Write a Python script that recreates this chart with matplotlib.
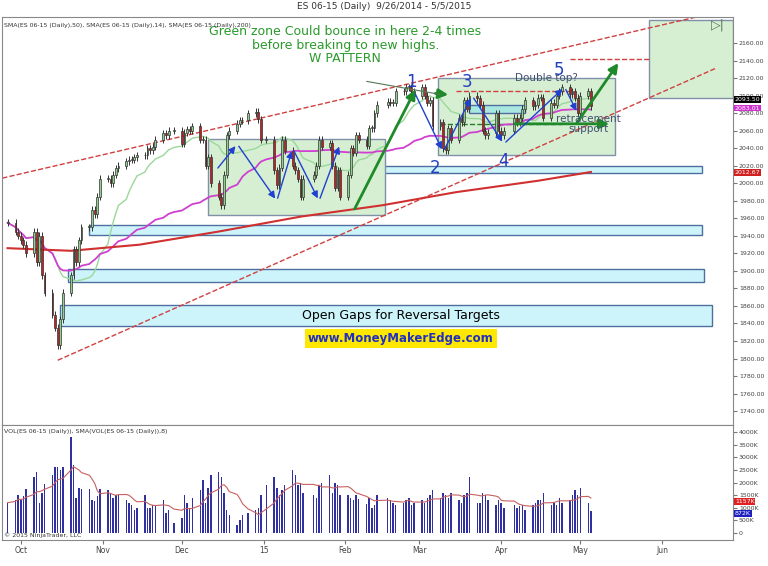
import matplotlib
matplotlib.use("Agg")
import matplotlib.pyplot as plt
import matplotlib.dates as mdates
from matplotlib.patches import Rectangle
import pandas as pd
import numpy as np

holidays = ["2014-11-27", "2014-12-25", "2015-01-01", "2015-01-19", "2015-02-16", "2015-04-03"]
closes = [1955, 1945, 1940,
          1935, 1930, 1920, 1945, 1910, 1940, 1895, 1875, 1850, 1835, 1815, 1845, 1875, 1895, 1925, 1910, 1935, 1950, 1950, 1970, 1965, 1985, 2005,
          2005, 2000, 2010, 2017, 2020, 2025, 2027, 2027, 2030, 2032, 2032, 2040, 2038, 2042, 2050, 2057, 2055, 2060, 2060,
          2045, 2058, 2062, 2060, 2065, 2050, 2050, 2020, 2030, 2000, 1985, 1975, 2010, 2055, 2060, 2068, 2072, 2072, 2080, 2082, 2073, 2050,
          2050, 2015, 1998, 2018, 2050, 2037, 2020, 2015, 2005, 1985, 2005, 2010, 2020, 2050, 2042, 2046, 2020, 1995, 2015, 1985,
          2010, 2040, 2035, 2055, 2050, 2043, 2063, 2063, 2080, 2090, 2093, 2092, 2092, 2105, 2105, 2110, 2110, 2105, 2100,
          2110, 2100, 2092, 2095, 2065, 2070, 2040, 2038, 2063, 2050, 2075, 2070, 2095, 2085, 2100, 2097, 2090, 2060, 2055, 2058, 2080, 2060,
          2055, 2060, 2075, 2070, 2075, 2085, 2095, 2088, 2090, 2098, 2098, 2075, 2092, 2090, 2100, 2105, 2110, 2102, 2105, 2098, 2080,
          2100, 2105, 2088]
volumes = [1200, 1300, 1500,
           1300, 1450, 1750, 2200, 2400, 1200, 1600, 1950, 2300, 2600, 2600, 2500, 2600, 3800, 2700, 1400, 1800, 1750, 1750, 1300, 1250, 1450, 1750,
           1700, 1600, 1400, 1500, 1500, 1300, 1200, 1100, 900, 1000, 1500, 1000, 1000, 1100, 1100, 1300, 800, 900, 400,
           600, 1500, 1200, 1000, 1400, 1700, 2100, 1200, 1800, 2300, 2400, 2200, 1600, 900, 700, 300, 500, 700, 800, 900, 1000, 1500,
           1900, 2200, 1800, 1500, 1700, 1900, 2500, 2300, 1900, 2000, 1600, 1500, 1400, 1900, 2000, 2300, 1600, 2000, 1900, 1500,
           1500, 1400, 1300, 1500, 1350, 1150, 1400, 1000, 1100, 1500, 1400, 1300, 1200, 1100, 1200, 1300, 1400, 1100, 1200,
           1300, 1200, 1400, 1500, 1700, 1400, 1600, 1500, 1400, 1600, 1300, 1200, 1500, 1600, 2200, 1200, 1200, 1600, 1500, 1300, 1100, 1300,
           1200, 1000, 1100, 1000, 1050, 1100, 900, 1100, 1200, 1300, 1300, 1600, 1100, 1200, 1100, 1400, 1200, 1300, 1500, 1700, 1500,
           1800, 1200, 872]
sma200_dates = ["2014-09-26", "2014-10-20", "2014-11-15", "2014-12-15", "2015-01-15", "2015-02-15", "2015-03-15", "2015-04-15", "2015-05-05"]
sma200_vals = [1926, 1923, 1930, 1945, 1962, 1975, 1990, 2003, 2013]
month_ticks = ["2014-10-01", "2014-11-01", "2014-12-01", "2015-01-01", "2015-02-01", "2015-03-01", "2015-04-01", "2015-05-01", "2015-06-01"]
month_labels = ["Oct", "Nov", "Dec", "15", "Feb", "Mar", "Apr", "May", "Jun"]

days = pd.bdate_range("2014-09-26", "2015-05-05")
days = days[~days.isin(pd.to_datetime(holidays))]
n = min(len(days), len(closes), len(volumes))
days = days[:n]
c = np.array(closes[:n], float)
o = np.r_[c[0], c[:-1]]
hi = np.maximum(o, c) + 4
lo = np.minimum(o, c) - 4
x = mdates.date2num(days)
s = pd.Series(c)
sma50 = s.rolling(50, min_periods=1).mean().values
sma14 = s.rolling(14, min_periods=1).mean().values
vol = np.array(volumes[:n], float)
vsma = pd.Series(vol).rolling(8, min_periods=1).mean().values

def d(s_):
    return mdates.date2num(pd.Timestamp(s_))

fig = plt.figure(figsize=(7.68, 5.66), dpi=100)
ax = fig.add_axes([0.003, 0.249, 0.952, 0.721])
axv = fig.add_axes([0.003, 0.046, 0.952, 0.203], sharex=ax)
xmin, xmax = d("2014-09-24"), d("2015-06-28")
ax.set_xlim(xmin, xmax)
ax.set_ylim(1724, 2190)

cyan_fc, cyan_ec = "#cdf4fb", "#4f6fa0"
for x0, x1, y0, y1 in [("2015-02-02", "2015-06-16", 2012, 2020), ("2014-10-27", "2015-06-16", 1941, 1952),
                       ("2014-10-19", "2015-06-17", 1887, 1902), ("2014-10-16", "2015-06-20", 1837, 1861)]:
    ax.add_patch(Rectangle((d(x0), y0), d(x1) - d(x0), y1 - y0, fc=cyan_fc, ec=cyan_ec, lw=1, zorder=1))
green_fc = "#d6efd2"
for x0, x1, y0, y1 in [("2014-12-11", "2015-02-16", 1964, 2051), ("2015-03-08", "2015-05-14", 2032, 2120),
                       ("2015-05-27", "2015-06-28", 2098, 2186)]:
    ax.add_patch(Rectangle((d(x0), y0), d(x1) - d(x0), y1 - y0, fc=green_fc, ec="#7f90a8", lw=1, zorder=1))
ax.add_patch(Rectangle((d("2015-03-20"), 2080), d("2015-04-10") - d("2015-03-20"), 9, fc="#a8e6e0", ec=cyan_ec, lw=1, zorder=1))

ax.plot([d("2014-09-24"), d("2015-06-14")], [2006, 2190], ls="--", color="#d04040", lw=1, zorder=2)
ax.plot([d("2014-10-15"), d("2015-06-21")], [1798, 2131], ls="--", color="#d04040", lw=1, zorder=2)
ax.plot([d("2015-04-27"), d("2015-05-27")], [2142, 2142], ls="--", color="#d04040", lw=1, zorder=2)
ax.plot([d("2015-03-15"), d("2015-04-27")], [2106, 2106], ls="--", color="#d04040", lw=1, zorder=2)
ax.plot([d("2015-03-09"), d("2015-04-24")], [2068, 2068], ls="--", color="#2a7a2a", lw=1, zorder=2)

ax.plot(x, sma14, color="#9ad89a", lw=1, zorder=3)
ax.plot(x, sma50, color="#d040d0", lw=1.3, zorder=3)
ax.plot(mdates.date2num(pd.to_datetime(sma200_dates)), sma200_vals, color="#d03030", lw=1.5, zorder=3)

for xi, oi, ci, h, l in zip(x, o, c, hi, lo):
    up = ci >= oi
    ax.vlines(xi, l, h, color="#333333", lw=0.7, zorder=4)
    ax.add_patch(Rectangle((xi - 0.35, min(oi, ci)), 0.7, max(abs(ci - oi), 0.8),
                           fc="#8fd08f" if up else "#c02020", ec="#333333", lw=0.5, zorder=5))

ag = dict(arrowstyle="-|>", color="#1f8a2a", lw=2, mutation_scale=14)
ax.annotate("", xy=(d("2015-02-28"), 2110), xytext=(d("2015-02-04"), 1968), arrowprops=ag, zorder=6)
ax.annotate("", xy=(d("2015-05-13"), 2068), xytext=(d("2015-04-05"), 2068), arrowprops=ag, zorder=6)
ax.annotate("", xy=(d("2015-05-16"), 2140), xytext=(d("2015-04-29"), 2066), arrowprops=ag, zorder=6)
ax.annotate("", xy=(d("2015-03-13"), 2101), xytext=(d("2015-03-06"), 2103), arrowprops=ag, zorder=6)
ax.annotate("", xy=(d("2015-03-10"), 2101), xytext=(d("2015-02-08"), 2117),
            arrowprops=dict(arrowstyle="-", color="#557755", lw=0.8), zorder=6)

ab = dict(arrowstyle="-|>", color="#2040d0", lw=1, mutation_scale=10)
zig = [("2015-02-27", 2105), ("2015-03-10", 2036), ("2015-03-21", 2100), ("2015-04-02", 2045),
       ("2015-04-25", 2110), ("2015-04-30", 2080)]
for (a0, b0), (a1, b1) in zip(zig[:-1], zig[1:]):
    ax.annotate("", xy=(d(a1), b1), xytext=(d(a0), b0), arrowprops=ab, zorder=6)
zig2 = [("2014-12-14", 2015), ("2014-12-22", 2045), ("2015-01-06", 1980), ("2015-01-12", 2040),
        ("2015-01-22", 1980), ("2015-01-30", 2045)]
for (a0, b0), (a1, b1) in zip(zig2[:-1], zig2[1:]):
    ax.annotate("", xy=(d(a1), b1), xytext=(d(a0), b0), arrowprops=ab, zorder=6)
for lab, dd, yy in [("1", "2015-02-26", 2116), ("2", "2015-03-07", 2017), ("3", "2015-03-19", 2116),
                    ("4", "2015-04-02", 2026), ("5", "2015-04-23", 2130)]:
    ax.text(d(dd), yy, lab, color="#2040c0", fontsize=12, ha="center", va="center", zorder=7)

ax.text(d("2015-02-01"), 2158, "Green zone Could bounce in here 2-4 times\nbefore breaking to new highs.\nW PATTERN",
        color="#2a9a2a", fontsize=9, ha="center", va="center", linespacing=1.05)
ax.text(d("2015-04-18"), 2120, "Double top?", color="#405070", fontsize=7.5, ha="center", va="center", zorder=7)
ax.text(d("2015-05-04"), 2068, "retracement\nsupport", color="#405070", fontsize=7.5, ha="center", va="center",
        linespacing=1.0, zorder=7)
ax.text(d("2015-02-22"), 1849, "Open Gaps for Reversal Targets", fontsize=9, ha="center", va="center", zorder=7)
ax.text(d("2015-02-22"), 1823, "www.MoneyMakerEdge.com", fontsize=8.5, color="#2030c0", fontweight="bold",
        ha="center", va="center", zorder=7,
        bbox=dict(boxstyle="square,pad=0.25", fc="#ffe800", ec="none"))
ax.text(d("2015-06-22"), 2181, "▷|", fontsize=9, color="#557755", ha="center", va="center", zorder=7)
ax.text(0.002, 0.985, "SMA(ES 06-15 (Daily),50), SMA(ES 06-15 (Daily),14), SMA(ES 06-15 (Daily),200)",
        transform=ax.transAxes, fontsize=4.5, va="top", color="#333333")

axv.bar(x, vol, width=0.55, color="#3030a0", zorder=2)
axv.plot(x, vsma, color="#c86060", lw=0.8, zorder=3)
axv.set_ylim(-277, 4277)
axv.text(0.002, 0.97, "VOL(ES 06-15 (Daily)), SMA(VOL(ES 06-15 (Daily)),8)", transform=axv.transAxes,
         fontsize=4.5, va="top", color="#333333")
axv.text(0.002, 0.02, "© 2015 NinjaTrader, LLC", transform=axv.transAxes, fontsize=4.5, va="bottom", color="#333333")

for a in (ax, axv):
    a.yaxis.tick_right()
    a.tick_params(axis="y", labelsize=4.5, length=3, color="#777777", labelcolor="#444444", pad=1)
    for sp in a.spines.values():
        sp.set_color("#888888")
ax.set_yticks(np.arange(1740, 2161, 20))
ax.set_yticklabels([f"{v:.2f}" for v in np.arange(1740, 2161, 20)])
axv.set_yticks(np.arange(0, 4001, 500))
axv.set_yticklabels(["0"] + [f"{v}K" for v in range(500, 4001, 500)])
ax.tick_params(axis="x", bottom=False, labelbottom=False)
axv.set_xticks([d(m) for m in month_ticks])
axv.set_xticklabels(month_labels)
axv.tick_params(axis="x", labelsize=5.5, length=3, color="#777777", labelcolor="#444444", pad=1)

for a, val, txt, col in [(ax, 2095.5, "2093.50", "black"), (ax, 2086.0, "2083.01", "#d030d0"),
                         (ax, 2012.67, "2012.67", "#d02020"),
                         (axv, 1250, "1157K", "#e02020"), (axv, 780, "872K", "#2020c0")]:
    a.text(1.002, val, txt, transform=a.get_yaxis_transform(), fontsize=4.5, color="white", va="center", ha="left",
           bbox=dict(boxstyle="square,pad=0.12", fc=col, ec="none"), zorder=10, clip_on=False)

fig.text(0.5, 0.988, "ES 06-15 (Daily)  9/26/2014 - 5/5/2015", fontsize=6.5, ha="center", va="center", color="#333333")
fig.savefig("out.png", dpi=100)
